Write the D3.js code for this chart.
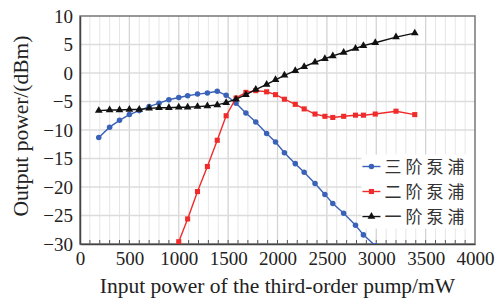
<!DOCTYPE html>
<html>
<head>
<meta charset="utf-8">
<script src="https://cdn.jsdelivr.net/npm/d3@7"></script>
<style>
  body { margin: 0; background: #fff; }
  svg { display: block; }
</style>
</head>
<body>
<svg id="chart"></svg>
<script>
// pump power (mW), shared by all three series
const pump = [190, 300, 400, 500, 600, 700, 800, 900, 1000, 1090, 1190, 1290, 1390, 1480, 1580,
    1680, 1780, 1890, 1980, 2070, 2180, 2270, 2380, 2480, 2560, 2670, 2790, 2870, 2990, 3200, 3390]

const third = [-11.3, -9.5, -8.3, -7.3, -6.6, -5.9, -5.3, -4.7, -4.3, -4.0, -3.7, -3.5, -3.2, -3.9, -5.3,
    -7.0, -8.6, -10.6, -12.1, -14.0, -15.9, -17.4, -19.4, -21.3, -22.9, -24.6, -26.7, -28.4, -30.3, null, null]

const second = [null, null, null, null, null, null, null, null, -29.6, -25.6, -20.8, -16.4, -11.8, -7.5, -4.4,
    -3.4, -3.1, -3.3, -3.8, -4.6, -5.5, -6.3, -7.2, -7.6, -7.8, -7.6, -7.4, -7.4, -7.2, -6.7, -7.3]

const first = [-6.6, -6.5, -6.5, -6.4, -6.4, -6.2, -6.1, -6.1, -6.0, -6.0, -5.9, -5.8, -5.6, -5.2, -4.6,
    -3.8, -2.9, -2.0, -1.2, -0.4, 0.4, 1.1, 1.9, 2.5, 3.0, 3.6, 4.3, 4.8, 5.3, 6.3, 7.0]

const seriesNames = ['三阶泵浦', '二阶泵浦', '一阶泵浦']
const xTicks = [0, 500, 1000, 1500, 2000, 2500, 3000, 3500, 4000]
const yTicks = [-30, -25, -20, -15, -10, -5, 0, 5, 10]

const width = 496, height = 300
const margin = {top: 16, right: 21, bottom: 56, left: 80}
const w = width - margin.left - margin.right
const h = height - margin.top - margin.bottom

const svg = d3.select('#chart').attr('width', width).attr('height', height)
const g = svg.append('g').attr('transform', `translate(${margin.left},${margin.top})`)

const x = d3.scaleLinear().domain([0, 4000]).range([0, w])
const y = d3.scaleLinear().domain([-30, 10]).range([h, 0])

const fmt = (d) => d < 0 ? '\u2212' + Math.abs(d) : String(d)
const serif = 'Liberation Serif, Times New Roman, serif'

// grid
g.append('g').selectAll('line')
    .data(d3.range(100, 4000, 100))
    .enter().append('line')
    .attr('x1', d => x(d)).attr('x2', d => x(d))
    .attr('y1', 0).attr('y2', h)
    .attr('stroke', d => d % 500 === 0 ? '#d4d4d4' : '#e6e6e6')
    .attr('stroke-width', d => d % 500 === 0 ? 1.3 : 1)

g.append('g').selectAll('line')
    .data(yTicks.slice(1, -1))
    .enter().append('line')
    .attr('x1', 0).attr('x2', w)
    .attr('y1', d => y(d)).attr('y2', d => y(d))
    .attr('stroke', '#dcdcdc')
    .attr('stroke-width', 1.3)

// minor ticks on bottom axis, pointing in
g.append('g').selectAll('line')
    .data(d3.range(100, 4000, 100))
    .enter().append('line')
    .attr('x1', d => x(d)).attr('x2', d => x(d))
    .attr('y1', h).attr('y2', h - 4)
    .attr('stroke', '#555')

// frame
g.append('rect')
    .attr('width', w).attr('height', h)
    .attr('fill', 'none')
    .attr('stroke', '#777')
    .attr('stroke-width', 1.5)

const xAxis = g.append('g')
    .attr('transform', `translate(0,${h})`)
    .call(d3.axisBottom(x).tickValues(xTicks).tickSize(0).tickPadding(8).tickFormat(fmt))
const yAxis = g.append('g')
    .call(d3.axisLeft(y).tickValues(yTicks).tickSize(0).tickPadding(7).tickFormat(fmt))

for (const ax of [xAxis, yAxis]) {
    ax.select('.domain').attr('stroke', '#444').attr('stroke-width', 1.5)
    ax.selectAll('text')
        .attr('font-family', serif)
        .attr('font-size', 19)
        .attr('fill', '#222')
}

svg.append('text')
    .attr('x', margin.left + w / 2).attr('y', 293)
    .attr('text-anchor', 'middle')
    .attr('font-family', serif)
    .attr('font-size', 21.5)
    .attr('fill', '#222')
    .text('Input power of the third-order pump/mW')

svg.append('text')
    .attr('transform', 'translate(28,126) rotate(-90)')
    .attr('text-anchor', 'middle')
    .attr('font-family', serif)
    .attr('font-size', 21.5)
    .attr('fill', '#222')
    .text('Output power/(dBm)')

// series
svg.append('clipPath').attr('id', 'plot-clip')
    .append('rect').attr('x', 0).attr('y', 0).attr('width', w).attr('height', h)

const series = [
    {name: seriesNames[0], values: third, color: '#3a62b8', symbol: d3.symbolCircle, size: 24},
    {name: seriesNames[1], values: second, color: '#f02b2b', symbol: d3.symbolSquare, size: 26},
    {name: seriesNames[2], values: first, color: '#111111', symbol: d3.symbolTriangle, size: 26}
]

const line = d3.line()
    .defined(d => d[1] !== null)
    .x(d => x(d[0]))
    .y(d => y(d[1]))

const plot = g.append('g').attr('clip-path', 'url(#plot-clip)')

series.forEach(s => {
    const pts = pump.map((p, i) => [p, s.values[i]])
    plot.append('path')
        .attr('d', line(pts))
        .attr('fill', 'none')
        .attr('stroke', s.color)
        .attr('stroke-width', 1.4)
    plot.selectAll(null)
        .data(pts.filter(d => d[1] !== null))
        .enter().append('path')
        .attr('d', d3.symbol().type(s.symbol).size(s.size))
        .attr('transform', d => `translate(${x(d[0])},${y(d[1])})`)
        .attr('fill', s.color)
})

// legend
const legend = g.append('g').attr('transform', `translate(${x(2850)},${y(-14.3)})`)
legend.append('rect')
    .attr('x', 0).attr('y', 0)
    .attr('width', w - x(2850) - 1).attr('height', 74)
    .attr('fill', '#fff')

series.forEach((s, i) => {
    const row = legend.append('g').attr('transform', `translate(0,${12 + i * 25})`)
    row.append('line')
        .attr('x1', 1).attr('x2', 19)
        .attr('stroke', s.color).attr('stroke-width', 1.4)
    row.append('path')
        .attr('d', d3.symbol().type(s.symbol).size(s.size))
        .attr('transform', 'translate(10,0)')
        .attr('fill', s.color)
    row.append('text')
        .attr('x', 23).attr('y', 0)
        .attr('dy', '0.36em')
        .attr('font-family', 'Noto Sans CJK SC, sans-serif')
        .attr('font-size', 17)
        .attr('letter-spacing', 4)
        .attr('fill', '#333')
        .text(s.name)
})
</script>
</body>
</html>
